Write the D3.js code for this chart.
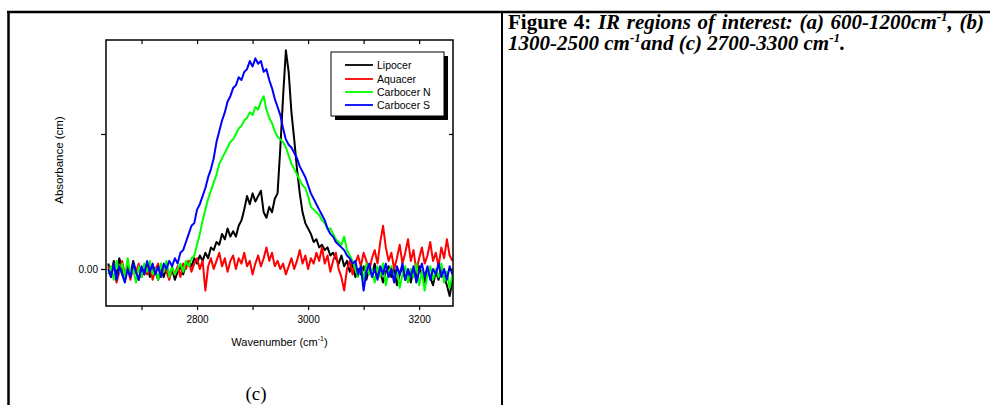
<!DOCTYPE html>
<html>
<head>
<meta charset="utf-8">
<script src="https://cdn.jsdelivr.net/npm/d3@7/dist/d3.min.js"></script>
<style>
  html, body { margin: 0; padding: 0; background: #fff; }
  svg { display: block; }
</style>
</head>
<body>
<svg id="chart" width="990" height="405"></svg>
<script>
// ---------------- DATA ----------------
const wavenumbers = d3.range(2640, 3261, 5); // 125 points, cm-1
const seriesNames = ["Lipocer", "Aquacer", "Carbocer N", "Carbocer S"];
const seriesColors = ["#000000", "#ff0000", "#00ff00", "#0000ff"];

const lipocer = [2,-2,3,-3,4,0,-4,1,-2,3,-1,-4,0,-2,2,-3,1,-1,-4,0,-3,1,-2,0,-4,
  -1,1,-2,2,3,1,4,2,5,3,6,4,8,7,10,9,13,11,15,12,14,12,16,18,22,27,24,28,25,27,
  29,21,19,23,21,26,28,45,64,81,73,58,48,37,28,21,17,15,13,10,11,8,9,7,8,5,6,4,2,5,
  1,3,-1,2,-3,0,-2,1,-4,0,-2,2,-3,-1,-5,-1,1,-3,0,-6,-2,1,-4,-1,-5,0,-3,1,-2,-5,
  0,-3,-6,-1,-4,0,-3,-6,-10,-4];

const aquacer = [1,-3,2,-5,-1,3,-2,0,-4,1,-1,2,-3,0,-2,1,-4,0,2,-3,1,-1,-4,0,-2,
  1,-3,2,0,3,-1,2,4,0,3,-8,1,4,0,3,6,1,4,-1,3,5,0,4,2,6,1,3,-2,2,5,
  1,4,8,3,6,1,3,0,2,-2,1,4,0,3,7,2,5,0,4,2,6,3,8,2,5,-1,3,6,0,-3,
  -8,0,3,-2,2,5,1,6,3,-1,4,7,2,10,16,8,3,6,0,4,9,2,6,11,3,7,-1,4,8,2,
  5,10,3,6,1,8,4,11,5,3];

const carbocerN = [-2,1,-4,3,-1,2,-3,4,-2,0,-5,1,-3,2,-1,3,-2,0,-4,2,-1,3,-3,1,-2,
  0,2,-1,3,1,4,5,9,13,18,22,26,29,32,35,39,41,43,45,47,48,50,52,53,55,56,58,57,60,59,
  62,64,59,56,54,51,49,48,47,45,42,39,37,35,33,31,30,27,23,22,21,20,18,17,15,15,13,11,10,9,
  12,7,5,3,0,-3,1,-4,2,-2,0,-5,1,-3,2,-6,-1,1,-4,0,-7,-2,1,-5,0,-3,2,-6,-1,-8,
  -2,1,-4,0,-3,2,-5,-1,-7,-2];

const carbocerS = [0,-3,2,-4,1,-2,-5,0,-3,2,-1,-4,1,-2,3,-1,2,-2,1,-3,2,0,3,1,4,
  2,6,7,10,13,16,17,22,24,27,30,34,37,41,47,51,55,58,62,64,67,68,71,70,73,74,77,75,78,76,
  77,73,74,70,67,63,60,57,52,48,46,45,43,41,38,36,34,31,28,26,24,22,20,18,15,13,12,10,9,8,
  7,5,4,2,3,-2,1,-8,-1,2,-3,0,-4,1,-2,2,-3,0,-5,1,-2,2,-4,0,-3,1,-5,-1,2,-3,
  1,-4,0,-2,2,-3,0,-4,1,-2];

const seriesValues = [lipocer, aquacer, carbocerN, carbocerS];

const xTickValues = [2700, 2800, 2900, 3000, 3100, 3200];
const xTickLabels = ["", "2800", "", "3000", "", "3200"];
const yTickValues = [0, 50];
const yTickLabels = ["0.00", ""];

// ---------------- LAYOUT ----------------
const svg = d3.select("#chart");
const plot = { left: 106, right: 453, top: 40, bottom: 306 };

const x = d3.scaleLinear().domain([2636, 3261]).range([plot.left, plot.right]);
const y = d3.scaleLinear().domain([-13.7, 84.8]).range([plot.bottom, plot.top]);

const sans = "'Liberation Sans', Arial, sans-serif";
const serif = "'Liberation Serif', 'Times New Roman', serif";

// Table borders
svg.append("line").attr("x1", 7).attr("x2", 990).attr("y1", 12).attr("y2", 12)
  .attr("stroke", "#000").attr("stroke-width", 2.5);
svg.append("line").attr("x1", 8.5).attr("x2", 8.5).attr("y1", 11).attr("y2", 405)
  .attr("stroke", "#000").attr("stroke-width", 2.5);
svg.append("line").attr("x1", 502).attr("x2", 502).attr("y1", 11).attr("y2", 405)
  .attr("stroke", "#000").attr("stroke-width", 2);

// Clip for lines
svg.append("defs").append("clipPath").attr("id", "clip")
  .append("rect").attr("x", plot.left).attr("y", plot.top)
  .attr("width", plot.right - plot.left).attr("height", plot.bottom - plot.top);

// Series lines
const line = d3.line().x((d, i) => x(wavenumbers[i])).y(d => y(d));
const lines = svg.append("g").attr("clip-path", "url(#clip)");
seriesValues.forEach((vals, k) => {
  lines.append("path").datum(vals)
    .attr("d", line)
    .attr("fill", "none")
    .attr("stroke", seriesColors[k])
    .attr("stroke-width", 2)
    .attr("stroke-linejoin", "round");
});

// Axes
const styleAxis = g => {
  g.select(".domain").remove();
  g.selectAll(".tick line").attr("stroke", "#000").attr("stroke-width", 1.2);
  g.selectAll(".tick text").attr("fill", "#000")
    .style("font-family", sans).style("font-size", "10px");
};

svg.append("g").attr("transform", `translate(0,${plot.bottom})`)
  .call(d3.axisBottom(x).tickValues(xTickValues)
    .tickFormat((d, i) => xTickLabels[i]).tickSize(4).tickPadding(6))
  .call(styleAxis);
svg.append("g").attr("transform", `translate(0,${plot.top})`)
  .call(d3.axisTop(x).tickValues(xTickValues).tickFormat("").tickSize(-4))
  .call(styleAxis);
svg.append("g").attr("transform", `translate(${plot.left},0)`)
  .call(d3.axisLeft(y).tickValues(yTickValues)
    .tickFormat((d, i) => yTickLabels[i]).tickSize(5).tickPadding(3))
  .call(styleAxis);
svg.append("g").attr("transform", `translate(${plot.right},0)`)
  .call(d3.axisRight(y).tickValues(yTickValues).tickFormat("").tickSize(-4))
  .call(styleAxis);

// Frame
svg.append("rect").attr("x", plot.left).attr("y", plot.top)
  .attr("width", plot.right - plot.left).attr("height", plot.bottom - plot.top)
  .attr("fill", "none").attr("stroke", "#000").attr("stroke-width", 1.5);

// Axis titles
svg.append("text")
  .attr("transform", `translate(63,160) rotate(-90)`)
  .attr("text-anchor", "middle")
  .style("font-family", sans).style("font-size", "11.5px")
  .text("Absorbance (cm)");

const xt = svg.append("text")
  .attr("x", (plot.left + plot.right) / 2).attr("y", 346)
  .attr("text-anchor", "middle")
  .style("font-family", sans).style("font-size", "11px");
xt.append("tspan").text("Wavenumber (cm");
xt.append("tspan").attr("dy", -5).style("font-size", "7px").text("-1");
xt.append("tspan").attr("dy", 5).text(")");

svg.append("text").attr("x", 256).attr("y", 400).attr("text-anchor", "middle")
  .style("font-family", serif).style("font-size", "19px").text("(c)");

// Legend
const lg = { x: 331, y: 52, w: 113, h: 64 };
svg.append("rect").attr("x", lg.x + 4).attr("y", lg.y + 4)
  .attr("width", lg.w).attr("height", lg.h).attr("fill", "#000");
svg.append("rect").attr("x", lg.x).attr("y", lg.y)
  .attr("width", lg.w).attr("height", lg.h)
  .attr("fill", "#fff").attr("stroke", "#000").attr("stroke-width", 1);
const rowY = [65, 79, 92, 105];
seriesNames.forEach((name, k) => {
  svg.append("line").attr("x1", 345).attr("x2", 373)
    .attr("y1", rowY[k]).attr("y2", rowY[k])
    .attr("stroke", seriesColors[k]).attr("stroke-width", 1.8);
  svg.append("text").attr("x", 377).attr("y", rowY[k])
    .attr("dy", "0.35em")
    .style("font-family", sans).style("font-size", "10.5px")
    .text(name);
});

// Caption (first line justified to the cell width)
const capSize = 21;
const cap1 = svg.append("text").attr("x", 508).attr("y", 29)
  .style("font-family", serif).style("font-size", capSize + "px").style("font-weight", "bold");
cap1.append("tspan").text("Figure 4: ");
cap1.append("tspan").style("font-style", "italic").text("IR regions of interest: (a) 600-1200cm");
cap1.append("tspan").style("font-style", "italic").style("font-size", "13px").attr("dy", -8).text("-1");
cap1.append("tspan").style("font-style", "italic").attr("dy", 8).text(", (b)");
const natural = cap1.node().getComputedTextLength();
const gaps = 8;
const extra = Math.max(0, (984 - 508 - natural) / gaps);
cap1.style("word-spacing", extra + "px");

const cap2 = svg.append("text").attr("x", 508).attr("y", 50)
  .style("font-family", serif).style("font-size", capSize + "px").style("font-weight", "bold")
  .style("font-style", "italic");
cap2.append("tspan").text("1300-2500 cm");
cap2.append("tspan").style("font-size", "13px").attr("dy", -8).text("-1");
cap2.append("tspan").attr("dy", 8).text("and (c) 2700-3300 cm");
cap2.append("tspan").style("font-size", "13px").attr("dy", -8).text("-1");
cap2.append("tspan").attr("dy", 8).text(".");
</script>
</body>
</html>
